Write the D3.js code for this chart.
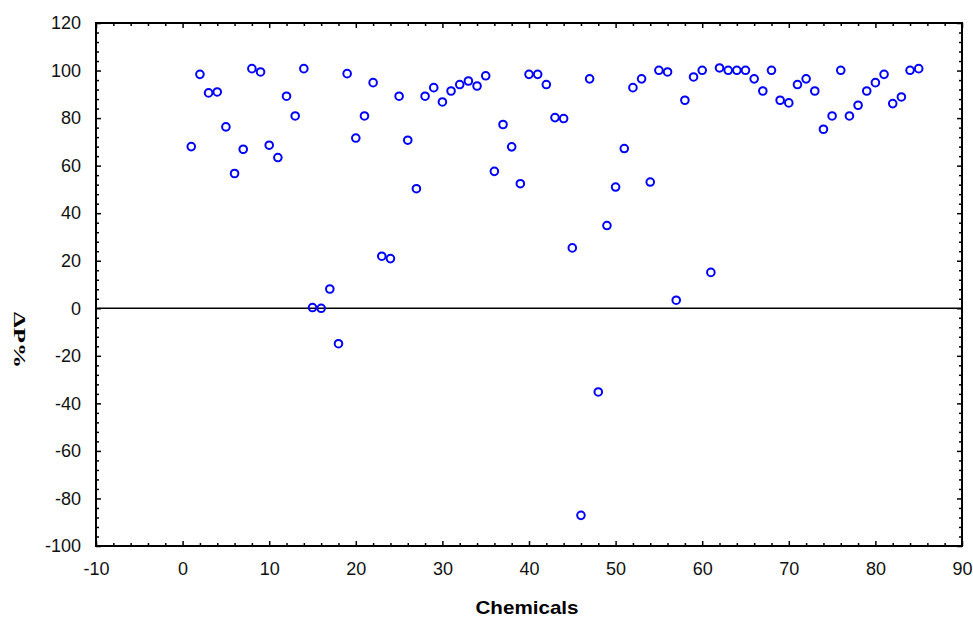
<!DOCTYPE html>
<html>

    <head>
        <meta charset="utf-8">
        <title>Chemicals vs %dP</title>
        <script src="https://d3js.org/d3.v7.min.js"></script>
        <style>
            body { margin: 0; background: #fff; }
            .tick text { font-family: "Liberation Sans", Arial, sans-serif; font-size: 18px; fill: #111; }
            .tick line { stroke: #000; stroke-width: 1.5; }
        </style>
    </head>

    <body>
        <div id="chart-container"></div>

        <script>
            // Chemical index (x) and response (y)
            const chemicals = [
                1, 2, 3, 4, 5, 6, 7, 8, 9, 10,
                11, 12, 13, 14, 15, 16, 17, 18, 19, 20,
                21, 22, 23, 24, 25, 26, 27, 28, 29, 30,
                31, 32, 33, 34, 35, 36, 37, 38, 39, 40,
                41, 42, 43, 44, 45, 46, 47, 48, 49, 50,
                51, 52, 53, 54, 55, 56, 57, 58, 59, 60,
                61, 62, 63, 64, 65, 66, 67, 68, 69, 70,
                71, 72, 73, 74, 75, 76, 77, 78, 79, 80,
                81, 82, 83, 84, 85
            ];
            const dP = [
                68, 98.4, 90.6, 91, 76.3, 56.7, 66.9, 100.8, 99.4, 68.6,
                63.4, 89.2, 80.9, 100.8, 0.3, 0, 8.1, -14.9, 98.7, 71.6,
                80.9, 94.9, 21.9, 20.9, 89.2, 70.7, 50.3, 89.2, 92.8, 86.8,
                91.4, 94.1, 95.6, 93.5, 97.8, 57.6, 77.3, 67.9, 52.4, 98.4,
                98.4, 94.1, 80.2, 79.8, 25.4, -87.1, 96.5, -35.2, 34.8, 51,
                67.2, 92.8, 96.5, 53.1, 100.1, 99.4, 3.4, 87.5, 97.3, 100.1,
                15.1, 101.1, 100.1, 100.1, 100.1, 96.5, 91.4, 100.1, 87.5, 86.4,
                94.1, 96.5, 91.4, 75.3, 80.9, 100.1, 80.9, 85.4, 91.4, 94.9,
                98.4, 86.1, 88.9, 100.1, 100.8
            ];

            // Tick labels
            const xTicks = [ -10, 0, 10, 20, 30, 40, 50, 60, 70, 80, 90 ];
            const yTicks = [ -100, -80, -60, -40, -20, 0, 20, 40, 60, 80, 100, 120 ];

            const width = 973;
            const height = 619;
            const plotLeft = 96, plotRight = 962, plotTop = 23, plotBottom = 546;

            const svg = d3.select( "#chart-container" )
                .append( "svg" )
                .attr( "width", width )
                .attr( "height", height );

            const x = d3.scaleLinear().domain( [ -10, 90 ] ).range( [ plotLeft, plotRight ] );
            const y = d3.scaleLinear().domain( [ -100, 120 ] ).range( [ plotBottom, plotTop ] );

            const xMinor = d3.range( -10, 91, 2 ).filter( v => !xTicks.includes( v ) );
            const yMinor = d3.range( -100, 121, 4 ).filter( v => !yTicks.includes( v ) );

            // draws one set of ticks; labels only where asked (plain hyphen minus)
            function ticks ( axis, pos, values, size, labels, padding )
            {
                const a = axis.tickValues( values ).tickSize( size ).tickPadding( padding || 3 )
                    .tickFormat( labels ? d => String( d ) : "" );
                svg.append( "g" )
                    .attr( "transform", pos )
                    .call( a )
                    .call( g => g.select( ".domain" ).remove() );
            }

            ticks( d3.axisBottom( x ), `translate(0,${ plotBottom })`, xTicks, -5, true, 16 );
            ticks( d3.axisBottom( x ), `translate(0,${ plotBottom })`, xMinor, -3, false );
            ticks( d3.axisTop( x ), `translate(0,${ plotTop })`, xTicks, -5, false );
            ticks( d3.axisTop( x ), `translate(0,${ plotTop })`, xMinor, -3, false );
            ticks( d3.axisLeft( y ), `translate(${ plotLeft },0)`, yTicks, -5, true, 15 );
            ticks( d3.axisLeft( y ), `translate(${ plotLeft },0)`, yMinor, -3, false );
            ticks( d3.axisRight( y ), `translate(${ plotRight },0)`, yTicks, -5, false );
            ticks( d3.axisRight( y ), `translate(${ plotRight },0)`, yMinor, -3, false );

            // Frame
            svg.append( "rect" )
                .attr( "x", plotLeft )
                .attr( "y", plotTop )
                .attr( "width", plotRight - plotLeft )
                .attr( "height", plotBottom - plotTop )
                .attr( "fill", "none" )
                .attr( "stroke", "#000" )
                .attr( "stroke-width", 2 );

            // Zero line
            svg.append( "line" )
                .attr( "x1", plotLeft )
                .attr( "x2", plotRight )
                .attr( "y1", y( 0 ) )
                .attr( "y2", y( 0 ) )
                .attr( "stroke", "#000" )
                .attr( "stroke-width", 1.6 );

            // Points
            svg.selectAll( ".pt" )
                .data( chemicals )
                .enter()
                .append( "circle" )
                .attr( "class", "pt" )
                .attr( "cx", d => x( d ) )
                .attr( "cy", ( d, i ) => y( dP[ i ] ) )
                .attr( "r", 3.8 )
                .attr( "fill", "none" )
                .attr( "stroke", "#0000ff" )
                .attr( "stroke-width", 2 );

            // Axis titles
            svg.append( "text" )
                .attr( "x", 527 )
                .attr( "y", 614 )
                .attr( "text-anchor", "middle" )
                .attr( "font-family", "Liberation Sans, Arial, sans-serif" )
                .attr( "font-weight", "bold" )
                .attr( "font-size", 19 )
                .attr( "textLength", 103 )
                .attr( "lengthAdjust", "spacingAndGlyphs" )
                .text( "Chemicals" );

            svg.append( "text" )
                .attr( "transform", "translate(14,340) rotate(90)" )
                .attr( "text-anchor", "middle" )
                .attr( "font-family", "Liberation Serif, Times New Roman, serif" )
                .attr( "font-weight", "bold" )
                .attr( "font-size", 17 )
                .attr( "textLength", 56 )
                .attr( "lengthAdjust", "spacingAndGlyphs" )
                .text( "ΔP%" );
        </script>
    </body>

</html>
